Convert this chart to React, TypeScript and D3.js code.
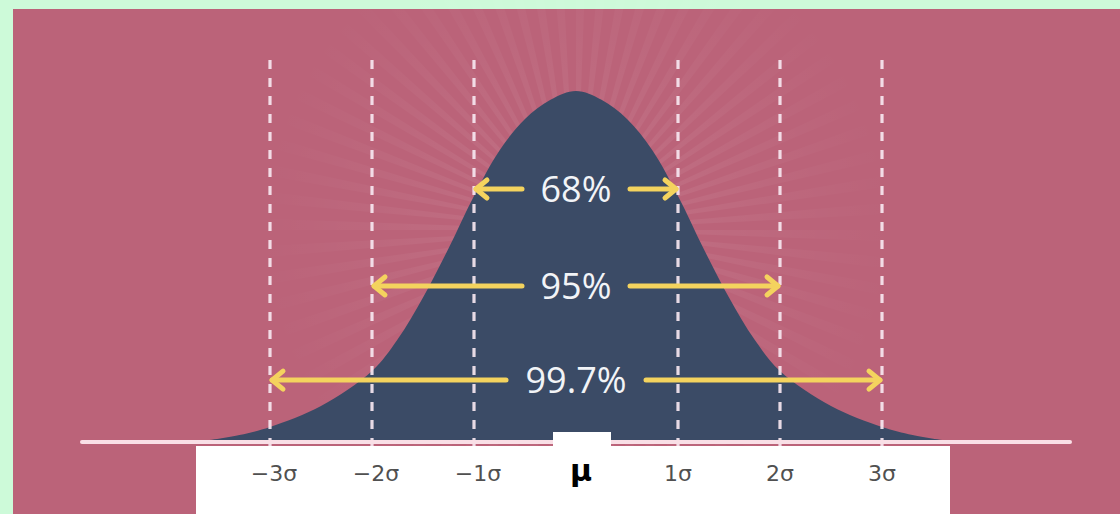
import React from "react";
import * as d3 from "d3";

// ---- data ----
const curveSigma = [-3.65, -3.3, -3, -2.5, -2, -1.75, -1.5, -1.25, -1, -0.75, -0.5, -0.25, 0, 0.25, 0.5, 0.75, 1, 1.25, 1.5, 1.75, 2, 2.5, 3, 3.3, 3.65];
const curveDensity = [0, 0.017, 0.04, 0.1, 0.2, 0.29, 0.41, 0.55, 0.7, 0.83, 0.92, 0.975, 1, 0.975, 0.92, 0.83, 0.7, 0.55, 0.41, 0.29, 0.2, 0.1, 0.04, 0.017, 0];
const sigmaTicks = [-3, -2, -1, 1, 2, 3];
const tickLabels = ["−3σ", "−2σ", "−1σ", "1σ", "2σ", "3σ"];
const intervalLabels = ["68%", "95%", "99.7%"];
const intervalSigma = [1, 2, 3];
const intervalLevel = [0.72, 0.443, 0.174];
const meanLabel = "μ";

const W = 1120;
const H = 514;
const PINK = "#bb6379";
const NAVY = "#3b4b66";
const GREEN = "#cdfad9";
const YELLOW = "#f4d35e";

export default function App() {
  const x = d3.scaleLinear().domain([-3, 3]).range([270, 882]);
  const y = d3.scaleLinear().domain([0, 1]).range([441, 91]);

  const pts: [number, number][] = curveSigma.map((s, i) => [x(s), y(curveDensity[i])]);
  const area = d3
    .area<[number, number]>()
    .x((d) => d[0])
    .y0(y(0))
    .y1((d) => d[1])
    .curve(d3.curveCatmullRom.alpha(0.5));

  const cx = x(0);
  const N = 72;
  const rays = d3.range(0, N).map((i) => {
    const a0 = (i / N) * Math.PI * 2;
    const a1 = a0 + (Math.PI * 2) / N / 2.4;
    const r = 520;
    const ox = cx, oy = 230;
    return `M${ox},${oy}L${ox + r * Math.cos(a0)},${oy + r * Math.sin(a0)}L${ox + r * Math.cos(a1)},${oy + r * Math.sin(a1)}Z`;
  });

  const arrowHead = (tx: number, ty: number, dir: number) =>
    `M${tx - dir * 11},${ty - 9}L${tx},${ty}L${tx - dir * 11},${ty + 9}`;

  return (
    <svg width={W} height={H} style={{ position: "absolute", left: 0, top: 0 }}>
      <defs>
        <radialGradient id="rayFade" cx={cx} cy={230} r={320} gradientUnits="userSpaceOnUse">
          <stop offset="0%" stopColor="#ffffff" stopOpacity={0.09} />
          <stop offset="55%" stopColor="#ffffff" stopOpacity={0.04} />
          <stop offset="100%" stopColor="#ffffff" stopOpacity={0} />
        </radialGradient>
      </defs>
      <rect x={0} y={0} width={W} height={H} fill={GREEN} />
      <rect x={13} y={9} width={W - 13} height={H - 9} fill={PINK} />
      <g fill="url(#rayFade)">
        {rays.map((d, i) => (
          <path key={i} d={d} />
        ))}
      </g>
      <path d={area(pts) || ""} fill={NAVY} />
      {sigmaTicks.map((s, i) => (
        <line
          key={i}
          x1={x(s)}
          x2={x(s)}
          y1={60}
          y2={448}
          stroke="#f6e6f0"
          strokeOpacity={0.92}
          strokeWidth={3.2}
          strokeDasharray="9,9"
        />
      ))}
      <line x1={82} x2={1070} y1={y(0) + 1} y2={y(0) + 1} stroke="#f9dfe6" strokeWidth={4} strokeLinecap="round" />
      {intervalLabels.map((lab, i) => {
        const yy = y(intervalLevel[i]);
        const gap = 30 + 8 * lab.length;
        const l = x(-intervalSigma[i]);
        const r = x(intervalSigma[i]);
        return (
          <g key={i}>
            <g stroke={YELLOW} strokeWidth={5} fill="none" strokeLinecap="round" strokeLinejoin="round">
              <line x1={l + 2} x2={cx - gap} y1={yy} y2={yy} />
              <line x1={cx + gap} x2={r - 2} y1={yy} y2={yy} />
              <path d={arrowHead(l + 2, yy, -1)} />
              <path d={arrowHead(r - 2, yy, 1)} />
            </g>
            <text
              x={cx}
              y={yy + 13}
              textAnchor="middle"
              fontFamily="'Open Sans', Lato, sans-serif"
              fontWeight={500}
              fontSize={36}
              fill="#f2f4f7"
            >
              {lab}
            </text>
          </g>
        );
      })}
      <rect x={196} y={446} width={754} height={H - 446} fill="#ffffff" />
      <rect x={553} y={432} width={58} height={20} fill="#ffffff" />
      {sigmaTicks.map((s, i) => (
        <text
          key={i}
          x={x(s) + (s < 0 ? 4 : 0)}
          y={481}
          textAnchor="middle"
          fontFamily="'DejaVu Sans', sans-serif"
          fontSize={22}
          fill="#505050"
        >
          {tickLabels[i]}
        </text>
      ))}
      <text
        x={581}
        y={481}
        textAnchor="middle"
        fontFamily="'DejaVu Sans', sans-serif"
        fontWeight="bold"
        fontSize={30}
        fill="#000000"
      >
        {meanLabel}
      </text>
    </svg>
  );
}
